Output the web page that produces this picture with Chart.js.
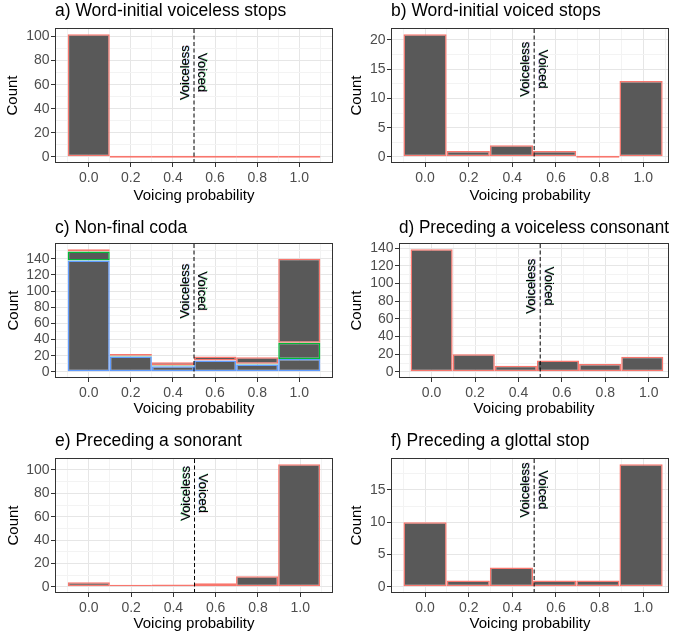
<!DOCTYPE html>
<html><head><meta charset="utf-8">
<script src="https://cdn.jsdelivr.net/npm/chart.js@4.4.1/dist/chart.umd.min.js"></script>
<style>
html,body{margin:0;padding:0;background:#fff;}
#wrap{position:relative;width:676px;height:637px;overflow:hidden;background:#fff;}
.panel{position:absolute;}
canvas{display:block;}
</style></head><body><div id="wrap"></div>
<script>
// ---------------- data ----------------
const panelTitles = ['a) Word-initial voiceless stops', 'b) Word-initial voiced stops', 'c) Non-final coda',
  'd) Preceding a voiceless consonant', 'e) Preceding a sonorant', 'f) Preceding a glottal stop'];
const xTitle = 'Voicing probability';
const yTitle = 'Count';
const boundaryLabels = ['Voiceless', 'Voiced'];
const splitAt = 0.5;

const binsA = [0, 0.2, 0.4, 0.6, 0.8, 1.0];
const binsB = [0, 0.198, 0.396, 0.594, 0.792, 0.99];
const binsC = [0, 0.2, 0.4, 0.6, 0.8, 1.0];
const binsD = [0, 0.194, 0.388, 0.582, 0.776, 0.97];
const binsE = [0, 0.199, 0.398, 0.597, 0.796, 0.995];
const binsF = [0, 0.198, 0.396, 0.594, 0.792, 0.99];

const countsA = [102, 0, 0, 0, 0, 0];
const countsB = [21, 1, 2, 1, 0, 13];
const countsCBlue  = [138, 19, 7, 14, 9, 16];
const countsCGreen = [11, 1, 1, 0, 1, 20];
const countsCRed   = [3, 2, 4, 5, 8, 104];
const countsD = [139, 20, 7, 13, 9, 17];
const countsE = [4, 1, 2, 3, 9, 105];
const countsF = [10, 1, 3, 1, 1, 19];

const xMajorTicks = [0, 0.2, 0.4, 0.6, 0.8, 1.0];
const xTickLabels = ['0.0', '0.2', '0.4', '0.6', '0.8', '1.0'];
const xMinorTicks = [-0.1, 0.1, 0.3, 0.5, 0.7, 0.9, 1.1];

const yMajor100 = [0, 20, 40, 60, 80, 100];
const yMinor100 = [10, 30, 50, 70, 90, 110];
const yMajor140 = [0, 20, 40, 60, 80, 100, 120, 140];
const yMinor140 = [10, 30, 50, 70, 90, 110, 130, 150];
const yMajor20 = [0, 5, 10, 15, 20];
const yMinor20 = [2.5, 7.5, 12.5, 17.5];
const yMajor15 = [0, 5, 10, 15];
const yMinor15 = [2.5, 7.5, 12.5, 17.5];

const labelYs = [70, 15, 100, 97, 80, 15];

// ---------------- styles ----------------
const FAMILY = '"Liberation Sans", Arial, Helvetica, sans-serif';
const RED = '#F8766D', GREEN = '#00BA38', BLUE = '#619CFF';
const FILL = '#595959';
const MAJOR_GRID = '#E6E6E6', MINOR_GRID = '#F3F3F3';
Chart.defaults.font.family = FAMILY;

const panels = [
  { bins: binsA, series: [{ data: countsA, color: RED }], xMin: -0.16, xMax: 1.16, yMajor: yMajor100, yMinor: yMinor100,
    box: { left: 0, top: 0, w: 338, h: 210 }, area: { left: 55, right: 333, top: 28, bottom: 163 },
    titlePad: { top: 1, bottom: 6 }, yTitlePad: 4, xTitlePad: 5.5 },
  { bins: binsB, series: [{ data: countsB, color: RED }], xMin: -0.156, xMax: 1.118, yMajor: yMajor20, yMinor: yMinor20,
    box: { left: 338, top: 0, w: 338, h: 210 }, area: { left: 53, right: 331, top: 28, bottom: 163 },
    titlePad: { top: 1, bottom: 6 }, yTitlePad: 9.5, xTitlePad: 5.5 },
  { bins: binsC, series: [{ data: countsCBlue, color: BLUE }, { data: countsCGreen, color: GREEN }, { data: countsCRed, color: RED }],
    stacked: true, xMin: -0.16, xMax: 1.16, yMajor: yMajor140, yMinor: yMinor140,
    box: { left: 0, top: 210, w: 338, h: 210 }, area: { left: 55, right: 333, top: 33, bottom: 168 },
    titlePad: { top: 7.5, bottom: 4.5 }, yTitlePad: 5, xTitlePad: 2.3 },
  { bins: binsD, series: [{ data: countsD, color: RED }], xMin: -0.150, xMax: 1.093, yMajor: yMajor140, yMinor: yMinor140,
    box: { left: 338, top: 210, w: 338, h: 210 }, area: { left: 61, right: 331, top: 33, bottom: 168 },
    titlePad: { top: 7.5, bottom: 4.5 }, yTitlePad: 9.5, xTitlePad: 2.3 },
  { bins: binsE, series: [{ data: countsE, color: RED }], xMin: -0.16, xMax: 1.155, yMajor: yMajor100, yMinor: yMinor100,
    box: { left: 0, top: 420, w: 338, h: 217 }, area: { left: 55, right: 333, top: 38, bottom: 173 },
    titlePad: { top: 10.5, bottom: 6.5 }, yTitlePad: 5, xTitlePad: 4.3 },
  { bins: binsF, series: [{ data: countsF, color: RED }], xMin: -0.156, xMax: 1.118, yMajor: yMajor15, yMinor: yMinor15,
    box: { left: 338, top: 420, w: 338, h: 217 }, area: { left: 53, right: 331, top: 38, bottom: 173 },
    titlePad: { top: 10.5, bottom: 6.5 }, yTitlePad: 9.8, xTitlePad: 4.5 }
];

const near = (a, b) => Math.abs(a - b) < 1e-9;
const inList = (v, list) => list.some(m => near(m, v));

const decor = {
  id: 'decor',
  afterDatasetsDraw(chart, args, opts) {
    const { ctx, chartArea: ca, scales } = chart;
    const xp = scales.x.getPixelForValue(splitAt);
    const yp = scales.y.getPixelForValue(opts.labelY);
    ctx.save();
    ctx.beginPath();
    ctx.rect(ca.left, ca.top, ca.right - ca.left, ca.bottom - ca.top);
    ctx.clip();
    ctx.font = '13px ' + FAMILY;
    ctx.textAlign = 'center';
    ctx.textBaseline = 'middle';
    const drawRot = (txt, x, y, ang) => {
      ctx.save();
      ctx.translate(x, y);
      ctx.rotate(ang);
      const fr = [[GREEN, -0.5, -0.3], [RED, 0.5, 0.3], [BLUE, 0.3, 0.5]];
      ctx.globalAlpha = 0.45;
      fr.forEach(([c, dx, dy]) => { ctx.fillStyle = c; ctx.fillText(txt, dx, dy); });
      ctx.globalAlpha = 1;
      ctx.fillStyle = '#000';
      ctx.fillText(txt, 0, 0);
      ctx.restore();
    };
    drawRot(boundaryLabels[0], xp - 8.5, yp, -Math.PI / 2);
    drawRot(boundaryLabels[1], xp + 8, yp, Math.PI / 2);
    ctx.restore();
    ctx.save();
    ctx.strokeStyle = '#333333';
    ctx.lineWidth = 1;
    ctx.strokeRect(Math.round(ca.left) + 0.5, Math.round(ca.top) + 0.5,
      Math.round(ca.right - ca.left) - 1, Math.round(ca.bottom - ca.top) - 1);
    ctx.restore();
  }
};

const wrap = document.getElementById('wrap');
panels.forEach((p, k) => {
  const div = document.createElement('div');
  div.className = 'panel';
  div.style.left = p.box.left + 'px';
  div.style.top = p.box.top + 'px';
  div.style.width = p.box.w + 'px';
  div.style.height = p.box.h + 'px';
  const cv = document.createElement('canvas');
  cv.width = p.box.w; cv.height = p.box.h;
  cv.style.width = p.box.w + 'px'; cv.style.height = p.box.h + 'px';
  div.appendChild(cv);
  wrap.appendChild(div);

  const totals = p.bins.map((_, i) => p.series.reduce((s, se) => s + se.data[i], 0));
  const top = Math.max(...totals);
  const yMin = -0.05 * top, yMax = 1.05 * top;

  const datasets = [{
    type: 'line', order: 0, stack: 'vline',
    data: [{ x: splitAt, y: yMin }, { x: splitAt, y: yMax }],
    borderColor: '#000000', borderWidth: 1, borderDash: [4, 2.5], pointRadius: 0, fill: false, tension: 0
  }];
  p.series.forEach(se => {
    datasets.push({
      type: 'bar', order: 1, stack: 'bars',
      data: p.bins.map((x, i) => ({ x: x, y: se.data[i] })),
      backgroundColor: FILL, borderColor: se.color, borderWidth: 1.5, borderSkipped: false,
      barThickness: 'flex', categoryPercentage: 1, barPercentage: 1,
      minBarLength: p.stacked ? 0 : 2, inflateAmount: 0
    });
  });

  const xTicksAll = xMajorTicks.concat(xMinorTicks).filter(v => v >= p.xMin && v <= p.xMax).sort((a, b) => a - b);
  const yTicksAll = p.yMajor.concat(p.yMinor).filter(v => v >= yMin && v <= yMax).sort((a, b) => a - b);

  new Chart(cv, {
    type: 'bar',
    data: { datasets },
    plugins: [decor],
    options: {
      responsive: false, animation: false, devicePixelRatio: 1,
      layout: { padding: { left: 0, top: 0, bottom: 0, right: p.box.w - p.area.right } },
      plugins: {
        legend: { display: false }, tooltip: { enabled: false },
        title: { display: true, text: panelTitles[k], align: 'start', fullSize: false, color: '#000',
          font: { size: 17.5, family: FAMILY, weight: 'normal', lineHeight: 1.2 }, padding: p.titlePad },
        decor: { labelY: labelYs[k] }
      },
      scales: {
        x: {
          type: 'linear', min: p.xMin, max: p.xMax, offset: false, bounds: 'data', stacked: !!p.stacked,
          afterBuildTicks: ax => { ax.ticks = xTicksAll.map(v => ({ value: v })); },
          afterFit: ax => { ax.height = p.box.h - p.area.bottom; },
          grid: { offset: false, lineWidth: 1, tickLength: 4, tickWidth: 1,
            color: c => (c.tick && inList(c.tick.value, xMajorTicks)) ? MAJOR_GRID : MINOR_GRID,
            tickColor: c => (c.tick && inList(c.tick.value, xMajorTicks)) ? '#333333' : 'rgba(0,0,0,0)' },
          border: { display: false },
          ticks: { autoSkip: false, maxRotation: 0, minRotation: 0, padding: 3, color: '#4D4D4D',
            font: { size: 14, family: FAMILY },
            callback: v => { const i = xMajorTicks.findIndex(m => near(m, v)); return i >= 0 ? xTickLabels[i] : ''; } },
          title: { display: true, text: xTitle, color: '#000', font: { size: 15, family: FAMILY },
            padding: { top: 0, bottom: p.xTitlePad } }
        },
        y: {
          type: 'linear', min: yMin, max: yMax, bounds: 'data', stacked: !!p.stacked, beginAtZero: false,
          afterBuildTicks: ax => { ax.ticks = yTicksAll.map(v => ({ value: v })); },
          afterFit: ax => { ax.width = p.area.left; },
          grid: { lineWidth: 1, tickLength: 4, tickWidth: 1,
            color: c => (c.tick && inList(c.tick.value, p.yMajor)) ? MAJOR_GRID : MINOR_GRID,
            tickColor: c => (c.tick && inList(c.tick.value, p.yMajor)) ? '#333333' : 'rgba(0,0,0,0)' },
          border: { display: false },
          ticks: { autoSkip: false, padding: 1.5, color: '#4D4D4D', font: { size: 14, family: FAMILY },
            callback: v => inList(v, p.yMajor) ? String(v) : '' },
          title: { display: true, text: yTitle, color: '#000', font: { size: 15, family: FAMILY },
            padding: { top: p.yTitlePad, bottom: 0 } }
        }
      }
    }
  });
});
</script>
</body></html>
